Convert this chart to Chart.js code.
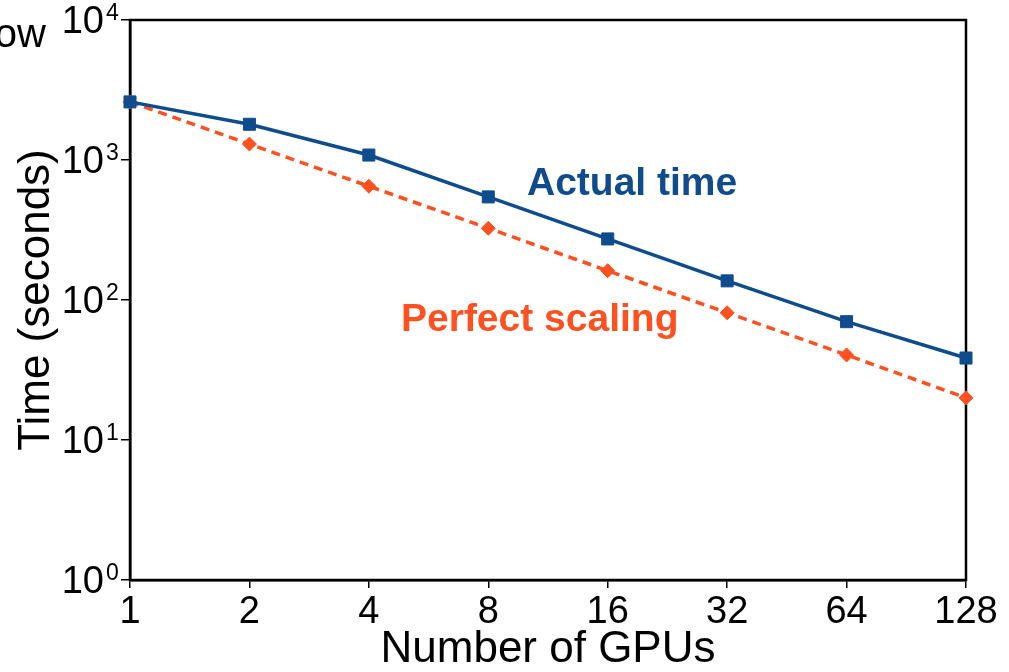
<!DOCTYPE html>
<html>
<head>
<meta charset="utf-8">
<script src="https://cdn.jsdelivr.net/npm/chart.js@4/dist/chart.umd.min.js"></script>
<style>
  html, body { margin: 0; padding: 0; background: #fff; }
  #wrap { width: 1009px; height: 672px; position: relative; }
</style>
</head>
<body>
<div id="wrap"><canvas id="myChart" width="1009" height="672"></canvas></div>
<script>
// data
var gpus = ["1", "2", "4", "8", "16", "32", "64", "128"];
var actualTime = [2600, 1800, 1085, 545, 273, 137, 70, 38.5];
var perfectScaling = [2600, 1300, 650, 325, 162, 81, 40.5, 20];
var yTicks = [1, 10, 100, 1000, 10000];

var blue = '#0f4c8d';
var orange = '#ff5020';
var fontName = '"Liberation Sans", Arial, Helvetica, sans-serif';

// frame, y labels with superscripts, and the in-plot text
var extras = {
    id: 'extras',
    beforeDatasetsDraw: function(chart) {
        var ctx = chart.ctx, a = chart.chartArea;
        ctx.save();
        ctx.strokeStyle = '#000';
        ctx.lineWidth = 2.5;
        ctx.strokeRect(a.left, a.top, a.right - a.left, a.bottom - a.top);
        ctx.restore();
    },
    afterDraw: function(chart) {
        var ctx = chart.ctx;
        var y = chart.scales.y;
        ctx.save();
        ctx.fillStyle = '#000';
        yTicks.forEach(function(v) {
            var py = y.getPixelForValue(v);
            ctx.font = '38px ' + fontName;
            ctx.textAlign = 'right';
            ctx.textBaseline = 'alphabetic';
            ctx.fillText('10', 104, py + 13);
            ctx.font = '23px ' + fontName;
            ctx.textAlign = 'left';
            ctx.fillText(String(Math.round(Math.log10(v))), 106, py);
        });

        // clipped word at the top left
        ctx.font = '40px ' + fontName;
        ctx.textAlign = 'right';
        ctx.fillText('ow', 46, 47);

        ctx.font = 'bold 39px ' + fontName;
        ctx.textAlign = 'left';
        ctx.fillStyle = blue;
        ctx.fillText('Actual time', 527, 195);
        ctx.fillStyle = orange;
        ctx.fillText('Perfect scaling', 401, 331);
        ctx.restore();
    }
};

var ctxL = document.getElementById("myChart").getContext('2d');
var myLineChart = new Chart(ctxL, {
    type: 'line',
    data: {
        labels: gpus,
        datasets: [
            {
                label: 'Perfect scaling',
                data: perfectScaling,
                borderColor: orange,
                backgroundColor: orange,
                borderWidth: 3.5,
                borderDash: [9, 6],
                pointStyle: 'rectRot',
                pointRadius: 7,
                pointBorderWidth: 1,
                tension: 0,
                clip: false,
                order: 2
            },
            {
                label: 'Actual time',
                data: actualTime,
                borderColor: blue,
                backgroundColor: blue,
                borderWidth: 3.5,
                pointStyle: 'rect',
                pointRadius: 8.5,
                pointBorderWidth: 1,
                tension: 0,
                clip: false,
                order: 1
            }
        ]
    },
    options: {
        responsive: false,
        animation: false,
        layout: { padding: { left: 0, top: 20, right: 43, bottom: 0 } },
        plugins: {
            legend: { display: false },
            tooltip: { enabled: false }
        },
        scales: {
            x: {
                type: 'category',
                offset: false,
                grid: { drawOnChartArea: false, drawTicks: true, tickLength: 8, color: '#000', lineWidth: 1.5 },
                border: { display: true, color: '#000', width: 2.5 },
                ticks: {
                    color: '#000',
                    font: { family: fontName, size: 38, lineHeight: 1 },
                    padding: 6,
                    maxRotation: 0,
                    autoSkip: false
                },
                title: {
                    display: true,
                    text: 'Number of GPUs',
                    color: '#000',
                    font: { family: fontName, size: 44, lineHeight: 1 },
                    padding: { top: 0, bottom: 0 }
                },
                afterFit: function(scale) { scale.height = 92; }
            },
            y: {
                type: 'logarithmic',
                min: 1,
                max: 10000,
                afterBuildTicks: function(scale) {
                    scale.ticks = yTicks.map(function(v) { return { value: v, major: true }; });
                },
                grid: { drawOnChartArea: false, drawTicks: true, tickLength: 9, color: '#000', lineWidth: 1.5 },
                border: { display: true, color: '#000', width: 2.5 },
                ticks: {
                    callback: function() { return ''; }
                },
                title: {
                    display: true,
                    text: 'Time (seconds)',
                    color: '#000',
                    font: { family: fontName, size: 44, lineHeight: 1 },
                    padding: { top: 15, bottom: 0 }
                },
                afterFit: function(scale) { scale.width = 130; }
            }
        }
    },
    plugins: [extras]
});
</script>
</body>
</html>
